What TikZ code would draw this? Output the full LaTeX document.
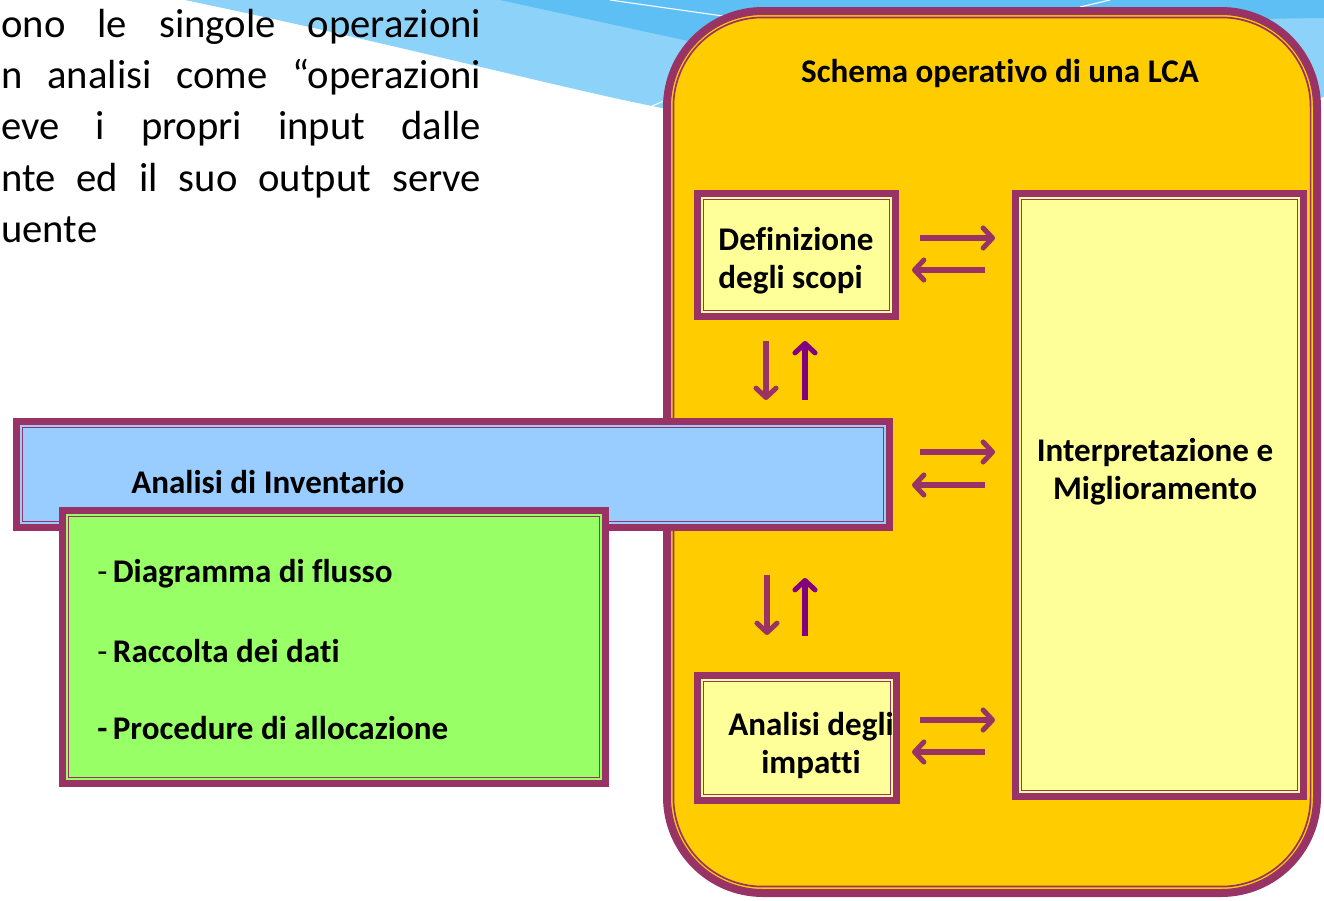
\documentclass[tikz,border=0pt]{standalone}
\usepackage{fontspec}
\setmainfont{Carlito}[Ligatures=NoCommon]
\usetikzlibrary{arrows.meta}
\definecolor{maroon}{HTML}{993366}
\definecolor{gold}{HTML}{FFCC00}
\definecolor{paleyellow}{HTML}{FFFF99}
\definecolor{boxblue}{HTML}{99CCFF}
\definecolor{boxgreen}{HTML}{99FF66}
\definecolor{arrowpurple}{HTML}{800080}
\definecolor{swooshlight}{HTML}{8DD3F9}
\definecolor{swooshdark}{HTML}{5DBFF4}
\tikzset{
  framebox/.style={draw=maroon, line width=5.2pt, outer sep=0pt, inner sep=0pt},
  innerline/.style={draw=maroon, line width=1pt},
  lbl/.style={font=\fontsize{24.8}{28.5}\selectfont\bfseries, inner sep=0pt},
  para/.style={font=\fontsize{30.5}{38}\selectfont, inner sep=0pt, anchor=base west},
  flow/.style={draw=maroon, line width=3.8pt, -{Straight Barb[length=7pt,width=15pt,round]}},
  flowup/.style={flow, draw=arrowpurple}
}
\begin{document}
\begin{tikzpicture}[x=0.75pt,y=-0.75pt]
\useasboundingbox (0,0) rectangle (1324,900);
% background swoosh
\fill[swooshlight] (185,0) .. controls (400,45) and (560,88) .. (662,108) -- (1250,112) .. controls (1290,105) .. (1324,97) -- (1324,0) -- cycle;
\fill[swooshdark] (500,0) -- (693,42) .. controls (900,40) and (1100,20) .. (1324,18) -- (1324,0) -- cycle;
\draw[white, line width=0.8pt] (610,0) -- (730,17);
\draw[white, line width=0.8pt] (1080,7) -- (1110,0);
\draw[white, line width=0.8pt] (652,106) -- (664,101);
% top paragraph (clipped at left)
\node[para] (l1) at (1,37) {\makebox[360pt][s]{ono le singole operazioni}};
\node[para] (l2) at (1,88) {\makebox[360pt][s]{n analisi come “operazioni}};
\node[para] (l3) at (1,139.5) {\makebox[360pt][s]{eve i propri input dalle}};
\node[para] (l4) at (1,191) {\makebox[360pt][s]{nte ed il suo output serve}};
\node[para] (l5) at (1,242) {uente};
% big LCA box
\node[draw=maroon, fill=gold, line width=6pt, outer sep=0pt, inner sep=0pt,
      rounded corners=72pt, minimum width=487.5pt, minimum height=661.5pt] (lca) at (992,452) {};
\draw[innerline, line width=1.3pt, rounded corners=67pt] ([shift={(4.8pt,-4.8pt)}]lca.north west) rectangle ([shift={(-4.8pt,4.8pt)}]lca.south east);
\node[lbl] (title) at (1000,73) {Schema operativo di una LCA};
% definizione
\node[framebox, fill=paleyellow, minimum width=148.5pt, minimum height=92.25pt] (def) at (796.5,255) {};
\draw[innerline] ([shift={(4.4pt,-4.4pt)}]def.north west) rectangle ([shift={(-4.4pt,4.4pt)}]def.south east);
\node[lbl, align=left] (deft) at (796,261) {Definizione\\degli scopi};
% analisi impatti
\node[framebox, fill=paleyellow, minimum width=149.25pt, minimum height=93.75pt] (imp) at (797,738) {};
\draw[innerline] ([shift={(4.4pt,-4.4pt)}]imp.north west) rectangle ([shift={(-4.4pt,4.4pt)}]imp.south east);
\node[lbl, align=center] (impt) at (811,745) {Analisi degli\\impatti};
% interpretazione
\node[framebox, fill=paleyellow, minimum width=216pt, minimum height=452.25pt] (int) at (1159.5,495) {};
\draw[innerline] ([shift={(4.4pt,-4.4pt)}]int.north west) rectangle ([shift={(-4.4pt,4.4pt)}]int.south east);
\node[lbl, align=center] (intt) at (1155,472) {Interpretazione e\\Miglioramento};
% horizontal arrows
\coordinate (a1s) at (920,238); \coordinate (a1e) at (995,238);
\coordinate (b1s) at (985,270); \coordinate (b1e) at (912,270);
\coordinate (a2s) at (920,452); \coordinate (a2e) at (995,452);
\coordinate (b2s) at (985,485); \coordinate (b2e) at (912,485);
\coordinate (a3s) at (920,720); \coordinate (a3e) at (995,720);
\coordinate (b3s) at (985,752); \coordinate (b3e) at (912,752);
\draw[flow] (a1s) -- (a1e);
\draw[flow] (b1s) -- (b1e);
\draw[flow] (a2s) -- (a2e);
\draw[flow] (b2s) -- (b2e);
\draw[flow] (a3s) -- (a3e);
\draw[flow] (b3s) -- (b3e);
% vertical arrows
\coordinate (d1s) at (766,341); \coordinate (d1e) at (766,400);
\coordinate (u1s) at (805,400); \coordinate (u1e) at (805,341);
\coordinate (d2s) at (767,575); \coordinate (d2e) at (767,635);
\coordinate (u2s) at (805,636); \coordinate (u2e) at (805,578);
\draw[flow] (d1s) -- (d1e);
\draw[flowup] (u1s) -- (u1e);
\draw[flow] (d2s) -- (d2e);
\draw[flowup] (u2s) -- (u2e);
% inventario
\node[framebox, fill=boxblue, minimum width=654.75pt, minimum height=79.5pt] (inv) at (453,474.5) {};
\draw[innerline] ([shift={(4.4pt,-4.4pt)}]inv.north west) rectangle ([shift={(-4.4pt,4.4pt)}]inv.south east);
\node[lbl, anchor=west] (invt) at (131,482) {Analisi di Inventario};
% green list box
\node[framebox, fill=boxgreen, minimum width=407.25pt, minimum height=204.75pt] (lst) at (334,647) {};
\draw[innerline] ([shift={(4.4pt,-4.4pt)}]lst.north west) rectangle ([shift={(-4.4pt,4.4pt)}]lst.south east);
\node[lbl, anchor=west] (it1) at (97,574) {\mdseries -\,\bfseries Diagramma di flusso};
\node[lbl, anchor=west] (it2) at (97,651) {\mdseries -\,\bfseries Raccolta dei dati};
\node[lbl, anchor=west] (it3) at (97,728) {-\,Procedure di allocazione};
\end{tikzpicture}
\end{document}
